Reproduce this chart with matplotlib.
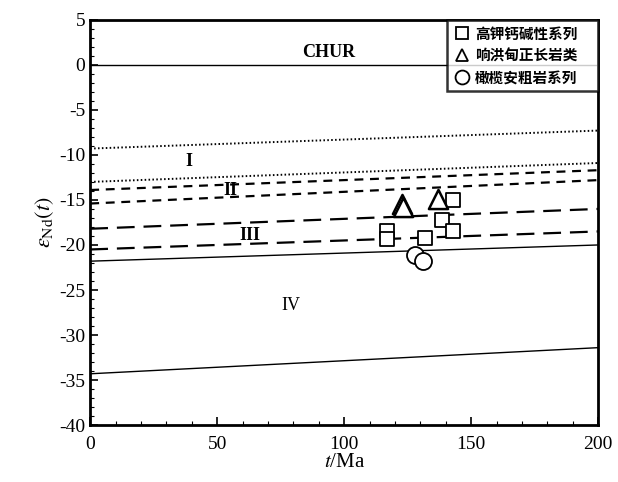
import matplotlib
matplotlib.use('Agg')
import matplotlib.pyplot as plt
from matplotlib.lines import Line2D
from matplotlib.ticker import MultipleLocator

plt.rcParams['font.family'] = ['Liberation Serif', 'Noto Sans CJK SC']
plt.rcParams['mathtext.fontset'] = 'stix'
plt.rcParams['axes.unicode_minus'] = False

# evolution lines: value at t=0 and t=200
t_ends = [0, 200]
band_I_top = [-9.3, -7.3]
band_I_bot = [-13.0, -10.9]
band_II_top = [-13.9, -11.7]
band_II_bot = [-15.4, -12.8]
band_III_top = [-18.2, -16.0]
band_III_bot = [-20.5, -18.5]
band_IV_top = [-21.8, -20.0]
band_IV_bot = [-34.3, -31.4]

# samples
sq_t = [116.8, 116.8, 131.9, 138.4, 143.0, 143.0]
sq_e = [-18.5, -19.3, -19.2, -17.2, -18.5, -15.0]
tri_t = [122.7, 123.0, 136.9]
tri_e = [-15.5, -15.8, -14.9]
cir_t = [127.7, 131.0]
cir_e = [-21.1, -21.8]

legend_labels = ['高钾钙碱性系列', '响洪甸正长岩类', '橄榄安粗岩系列']

fig = plt.figure(figsize=(6.18, 4.82), dpi=100)
ax = fig.add_axes([0.146, 0.118, 0.822, 0.841])

ax.axhline(0, color='black', lw=1.0)
ax.plot(t_ends, band_I_top, color='black', lw=1.4, ls=(0, (0.8, 1.2)))
ax.plot(t_ends, band_I_bot, color='black', lw=1.4, ls=(0, (0.8, 1.2)))
ax.plot(t_ends, band_II_top, color='black', lw=1.6, ls=(0, (4, 3)))
ax.plot(t_ends, band_II_bot, color='black', lw=1.6, ls=(0, (4, 3)))
ax.plot(t_ends, band_III_top, color='black', lw=1.6, ls=(0, (8, 4)))
ax.plot(t_ends, band_III_bot, color='black', lw=1.6, ls=(0, (8, 4)))
ax.plot(t_ends, band_IV_top, color='black', lw=1.0)
ax.plot(t_ends, band_IV_bot, color='black', lw=1.0)

ax.scatter(sq_t, sq_e, marker='s', s=95, facecolors='white', edgecolors='black', linewidths=1.3, zorder=3)
ax.scatter(tri_t, tri_e, marker='^', s=190, facecolors='white', edgecolors='black', linewidths=1.8, zorder=3)
ax.scatter(cir_t, cir_e, marker='o', s=150, facecolors='white', edgecolors='black', linewidths=1.3, zorder=3)

ax.text(94, 1.4, 'CHUR', fontsize=13, fontweight='bold', ha='center', va='center')
ax.text(39, -10.7, 'I', fontsize=13, fontweight='bold', ha='center', va='center')
ax.text(55, -14.0, 'II', fontsize=13, fontweight='bold', ha='center', va='center')
ax.text(63, -18.9, 'III', fontsize=13, fontweight='bold', ha='center', va='center')
ax.text(79, -26.7, 'IV', fontsize=13, ha='center', va='center')

ax.set_xlim(0, 200)
ax.set_ylim(-40, 5)
ax.xaxis.set_major_locator(MultipleLocator(50))
ax.xaxis.set_minor_locator(MultipleLocator(10))
ax.yaxis.set_major_locator(MultipleLocator(5))
ax.yaxis.set_minor_locator(MultipleLocator(1))
ax.tick_params(which='both', direction='in', labelsize=14)
ax.tick_params(which='major', length=6, width=1.2)
ax.tick_params(which='minor', length=3, width=0.8)
ax.tick_params(axis='x', pad=8)
for sp in ax.spines.values():
    sp.set_linewidth(2)

ax.set_xlabel('$t$/Ma', fontsize=15, labelpad=0)
ax.set_ylabel(r'$\varepsilon_{\mathrm{Nd}}(t)$', fontsize=16, labelpad=2)

handles = [
    Line2D([], [], marker='s', ls='none', mfc='white', mec='black', ms=9, mew=1.3),
    Line2D([], [], marker='^', ls='none', mfc='white', mec='black', ms=9, mew=1.3),
    Line2D([], [], marker='o', ls='none', mfc='white', mec='black', ms=10, mew=1.3),
]
leg = ax.legend(handles, legend_labels, loc='upper left',
                bbox_to_anchor=(0.703, 0.0, 0.297, 1.0), mode='expand',
                prop={'family': 'Noto Sans CJK SC', 'size': 10.5, 'weight': 'bold'},
                frameon=True, fancybox=False, edgecolor='black',
                handletextpad=0.3, handlelength=1.2, borderpad=0.4,
                labelspacing=0.4, borderaxespad=0)
leg.get_frame().set_linewidth(1.8)

fig.savefig('out.png', dpi=100)
